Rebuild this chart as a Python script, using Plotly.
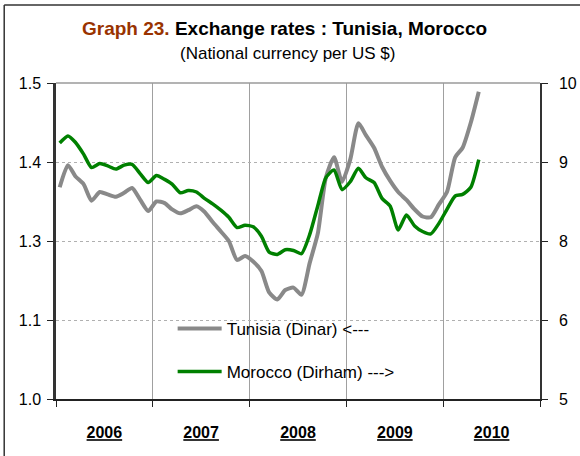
import pandas as pd
import plotly.graph_objects as go

# Monthly data, Jan 2006 .. May 2010
months = (pd.date_range("2006-01-01", periods=53, freq="MS") + pd.Timedelta(days=14)).strftime("%Y-%m-%d").tolist()

tunisia = [1.368, 1.396, 1.382, 1.372, 1.351, 1.362, 1.359, 1.356, 1.361, 1.367,
           1.352, 1.338, 1.350, 1.348, 1.340, 1.335, 1.339, 1.344, 1.337, 1.324,
           1.312, 1.300, 1.276, 1.281, 1.274, 1.262, 1.235, 1.226, 1.238, 1.241,
           1.232, 1.272, 1.310, 1.380, 1.406, 1.375, 1.403, 1.449, 1.434, 1.418,
           1.394, 1.376, 1.362, 1.352, 1.340, 1.331, 1.330, 1.346, 1.362, 1.406,
           1.418, 1.450, 1.489]

morocco = [9.24, 9.33, 9.25, 9.10, 8.93, 8.98, 8.95, 8.91, 8.96, 8.97,
           8.85, 8.74, 8.83, 8.78, 8.72, 8.61, 8.64, 8.62, 8.54, 8.47,
           8.39, 8.30, 8.17, 8.20, 8.18, 8.06, 7.86, 7.83, 7.89, 7.88,
           7.84, 8.08, 8.45, 8.80, 8.90, 8.65, 8.75, 8.92, 8.80, 8.74,
           8.54, 8.44, 8.14, 8.33, 8.19, 8.12, 8.09, 8.22, 8.40, 8.57,
           8.59, 8.68, 9.03]

left_tickvals = [1.1, 1.2, 1.3, 1.4, 1.5]
left_ticktext = ["1.0", "1.1", "1.3", "1.4", "1.5"]
right_tickvals = [6, 7, 8, 9, 10]
right_ticktext = ["5", "6", "8", "9", "10"]

FONT = "Liberation Sans, Arial, sans-serif"

fig = go.Figure()
fig.add_trace(go.Scatter(
    x=months, y=tunisia, name="Tunisia (Dinar) <---", mode="lines",
    line=dict(color="#898989", width=4, shape="spline", smoothing=0.6),
    legendgroup="a", yaxis="y"))
fig.add_trace(go.Scatter(
    x=months, y=morocco, name="Morocco (Dirham) --->", mode="lines",
    line=dict(color="#008000", width=3.5, shape="spline", smoothing=0.6),
    legendgroup="b", yaxis="y2"))

fig.update_layout(
    width=580, height=456,
    margin=dict(l=56, r=40, t=83, b=57, autoexpand=False),
    paper_bgcolor="white", plot_bgcolor="white",
    font=dict(family=FONT, size=16, color="black"),
    showlegend=True,
    legend=dict(x=0.241, y=0.279, xanchor="left", yanchor="top",
                bgcolor="rgba(0,0,0,0)", tracegroupgap=18, itemwidth=44,
                font=dict(size=17, family=FONT)),
    xaxis=dict(
        type="date", range=["2006-01-01", "2011-01-01"],
        dtick="M12", tick0="2006-01-01", ticklabelmode="period",
        tickformat="<b><u>%Y</u></b>",
        ticks="outside", ticklen=6, tickcolor="#222", tickwidth=1,
        ticklabelstandoff=12,
        showgrid=True, gridcolor="#a0a0a0", gridwidth=1,
        showline=True, linecolor="#222", linewidth=2,
        tickfont=dict(size=16, family=FONT), zeroline=False),
    yaxis=dict(
        range=[1.1, 1.5], tickvals=left_tickvals, ticktext=left_ticktext,
        ticks="outside", ticklen=6, tickcolor="#222", ticklabelstandoff=3,
        showgrid=True, gridcolor="#b0b0b0", griddash="dot", gridwidth=1,
        showline=True, linecolor="#333", linewidth=2.5,
        tickfont=dict(size=16, family=FONT), zeroline=False),
    yaxis2=dict(
        range=[6, 10], tickvals=right_tickvals, ticktext=right_ticktext,
        overlaying="y", side="right",
        ticks="outside", ticklen=6, tickcolor="#222", ticklabelstandoff=8,
        showgrid=False, showline=True, linecolor="#333", linewidth=1.5,
        tickfont=dict(size=16, family=FONT), zeroline=False),
)

# top border of plot area (gray)
fig.add_shape(type="line", xref="paper", yref="paper", x0=0, x1=1, y0=1, y1=1,
              line=dict(color="#9a9a9a", width=1.5))
# outer frame (top and left)
fig.add_shape(type="line", xref="paper", yref="paper", x0=-0.107, x1=1.09, y0=1.247, y1=1.247,
              line=dict(color="#333", width=1.5))
fig.add_shape(type="line", xref="paper", yref="paper", x0=-0.107, x1=-0.107, y0=1.247, y1=-0.2,
              line=dict(color="#333", width=1.5))

fig.add_annotation(
    text="<b><span style='color:#993300'>Graph 23.</span> Exchange rates : Tunisia, Morocco</b>",
    xref="paper", yref="paper", x=0.472, y=1.172, xanchor="center", yanchor="middle",
    showarrow=False, font=dict(size=19, family=FONT, color="black"))
fig.add_annotation(
    text="(National currency per US $)",
    xref="paper", yref="paper", x=0.479, y=1.092, xanchor="center", yanchor="middle",
    showarrow=False, font=dict(size=17, family=FONT, color="black"))

fig.write_html("out.html", config={"displayModeBar": False},
               post_script="document.body.style.margin='0';")
